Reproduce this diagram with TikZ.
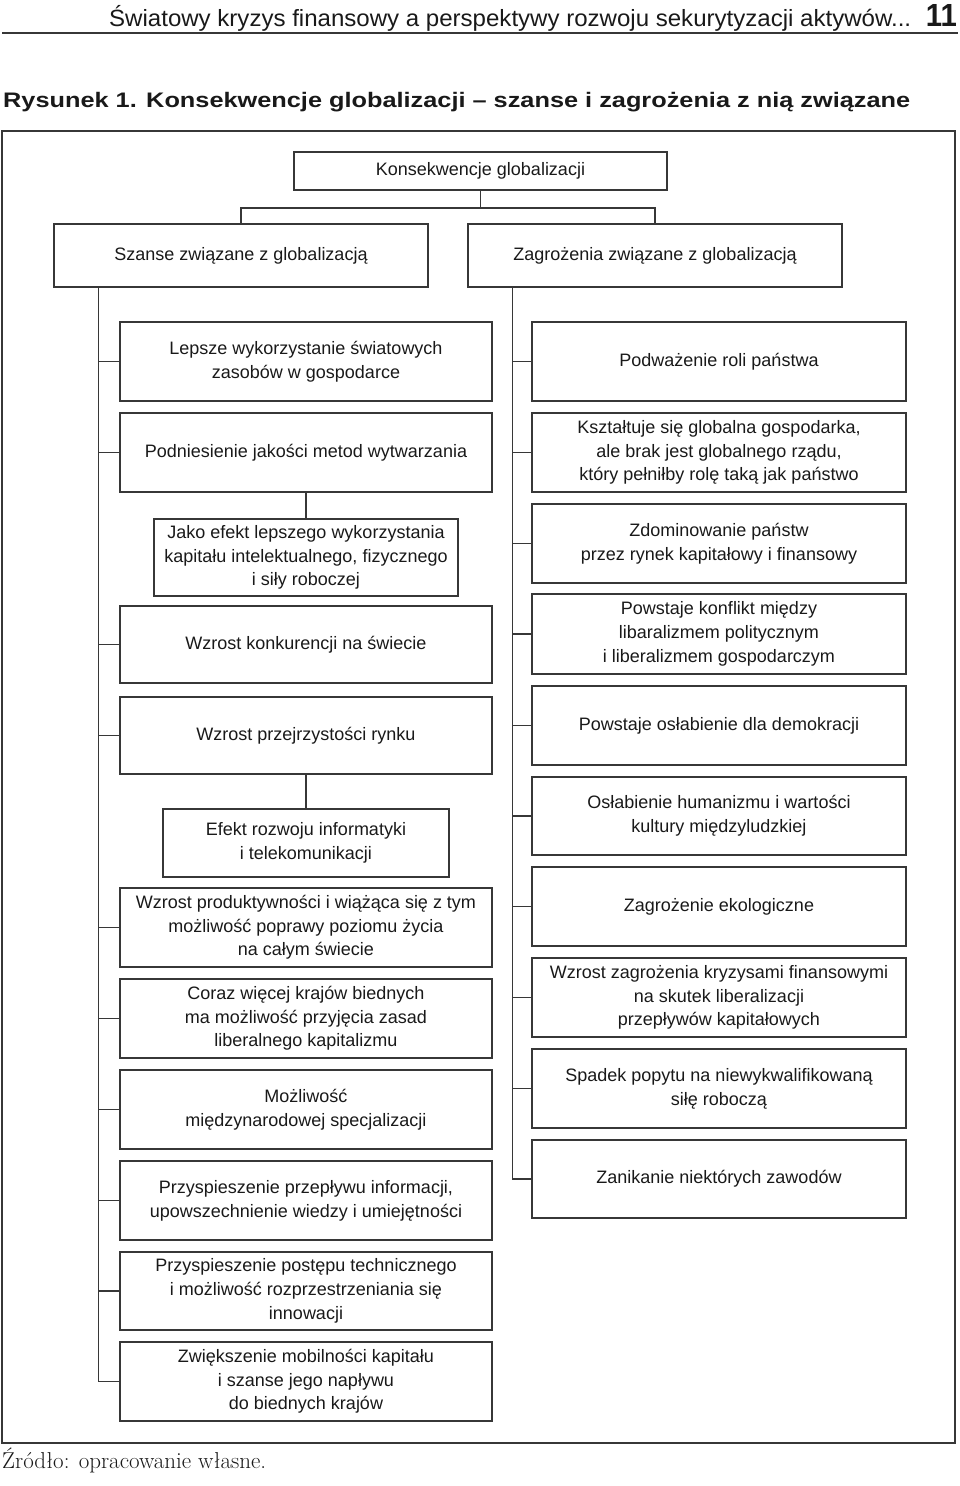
\documentclass[tikz,border=0pt]{standalone}
\usepackage{fontspec}
\usepackage{graphicx}
\newfontfamily\arialf{Liberation Sans}
\definecolor{ink}{RGB}{25,25,25}
\definecolor{lines}{RGB}{55,55,55}
\tikzset{
  box/.style={draw=lines, line width=1.6pt, align=center, inner sep=0pt,
    font=\arialf\fontsize{18}{23.7}\selectfont, text=ink},
  lbox/.style={box, minimum width=372pt, minimum height=79pt},
  rbox/.style={box, minimum width=374pt, minimum height=79pt},
  conn/.style={draw=lines, line width=1.4pt},
}
\begin{document}
\begin{tikzpicture}[x=1pt,y=-1pt]
\useasboundingbox (0,0) rectangle (960,1486);
% header
\node[anchor=base west, inner sep=0pt, text=ink] (hdr) at (109,26)
  {\resizebox{802pt}{\height}{\arialf\fontsize{23.5}{28}\selectfont Światowy kryzys finansowy a perspektywy rozwoju sekurytyzacji aktywów...}};
\node[anchor=base east, inner sep=0pt, text=ink] (pg) at (957,26)
  {\resizebox{31pt}{\height}{\arialf\bfseries\fontsize{32}{34}\selectfont 11}};
\draw[lines, line width=2pt] (2,33) -- (958,33);
\node[anchor=base west, inner sep=0pt, text=ink] (title) at (3,107)
  {\resizebox{907pt}{\height}{\arialf\bfseries\fontsize{21}{25}\selectfont Rysunek 1. Konsekwencje globalizacji – szanse i zagrożenia z nią związane}};
% frame
\draw[lines, line width=1.6pt] (2,131) rectangle (955,1443);
% top level
\node[box, minimum width=373pt, minimum height=38pt] (top) at (480.5,171) {Konsekwencje globalizacji};
\node[box, minimum width=374pt, minimum height=63pt] (szanse) at (241,255.5) {Szanse związane z globalizacją};
\node[box, minimum width=374pt, minimum height=63pt] (zagr) at (655,255.5) {Zagrożenia związane z globalizacją};
\coordinate (j) at ([yshift=-17pt]top.south);
\draw[conn] (top.south) -- (j);
\draw[conn] (szanse.north) |- (j) -| (zagr.north);
% left column
\node[lbox] (L1) at (306,361.5) {Lepsze wykorzystanie światowych\\zasobów w gospodarce};
\node[lbox] (L2) at (306,452.5) {Podniesienie jakości metod wytwarzania};
\node[box, minimum width=304pt, minimum height=77pt] (L2a) at (306,557.5) {Jako efekt lepszego wykorzystania\\kapitału intelektualnego, fizycznego\\i siły roboczej};
\node[lbox, minimum height=77pt] (L3) at (306,644.5) {Wzrost konkurencji na świecie};
\node[lbox, minimum height=77pt] (L4) at (306,735.5) {Wzrost przejrzystości rynku};
\node[box, minimum width=286pt, minimum height=68pt] (L4a) at (306,843) {Efekt rozwoju informatyki\\i telekomunikacji};
\node[lbox] (L5) at (306,927.5) {Wzrost produktywności i wiążąca się z tym\\możliwość poprawy poziomu życia\\na całym świecie};
\node[lbox] (L6) at (306,1018.5) {Coraz więcej krajów biednych\\ma możliwość przyjęcia zasad\\liberalnego kapitalizmu};
\node[lbox] (L7) at (306,1109.5) {Możliwość\\międzynarodowej specjalizacji};
\node[lbox] (L8) at (306,1200.5) {Przyspieszenie przepływu informacji,\\upowszechnienie wiedzy i umiejętności};
\node[lbox, minimum height=78pt] (L9) at (306,1291) {Przyspieszenie postępu technicznego\\i możliwość rozprzestrzeniania się\\innowacji};
\node[lbox] (L10) at (306,1381.5) {Zwiększenie mobilności kapitału\\i szanse jego napływu\\do biednych krajów};
\draw[conn] (L2.south) -- (L2a.north);
\draw[conn] (L4.south) -- (L4a.north);
\coordinate (lt) at ([xshift=45pt]szanse.south west);
\draw[conn] (lt) |- (L10.west);
\foreach \n in {L1,L2,L3,L4,L5,L6,L7,L8,L9}
  \draw[conn] (\n.west) -- (\n.west -| lt);
% right column
\node[rbox] (R1) at (719,361.5) {Podważenie roli państwa};
\node[rbox] (R2) at (719,452.5) {Kształtuje się globalna gospodarka,\\ale brak jest globalnego rządu,\\który pełniłby rolę taką jak państwo};
\node[rbox] (R3) at (719,543.5) {Zdominowanie państw\\przez rynek kapitałowy i finansowy};
\node[rbox, minimum height=80pt] (R4) at (719,634) {Powstaje konflikt między\\libaralizmem politycznym\\i liberalizmem gospodarczym};
\node[rbox] (R5) at (719,725.5) {Powstaje osłabienie dla demokracji};
\node[rbox, minimum height=78pt] (R6) at (719,816) {Osłabienie humanizmu i wartości\\kultury międzyludzkiej};
\node[rbox] (R7) at (719,906.5) {Zagrożenie ekologiczne};
\node[rbox] (R8) at (719,997.5) {Wzrost zagrożenia kryzysami finansowymi\\na skutek liberalizacji\\przepływów kapitałowych};
\node[rbox] (R9) at (719,1088.5) {Spadek popytu na niewykwalifikowaną\\siłę roboczą};
\node[rbox, minimum height=78pt] (R10) at (719,1179) {Zanikanie niektórych zawodów};
\coordinate (rt) at ([xshift=45pt]zagr.south west);
\draw[conn] (rt) |- (R10.west);
\foreach \n in {R1,R2,R3,R4,R5,R6,R7,R8,R9}
  \draw[conn] (\n.west) -- (\n.west -| rt);
% source
\node[anchor=base west, inner sep=0pt, text=ink] (src) at (2,1468)
  {\fontsize{23}{27}\selectfont Źródło: opracowanie własne.};
\end{tikzpicture}
\end{document}
